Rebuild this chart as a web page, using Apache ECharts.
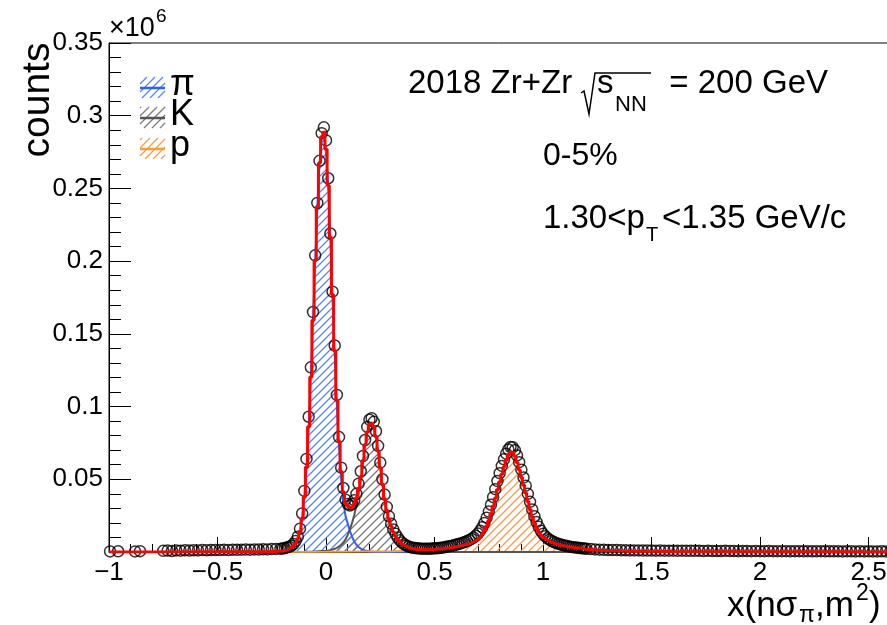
<!DOCTYPE html>
<html>
<head>
<meta charset="utf-8">
<title>PID fit, Zr+Zr 200 GeV</title>
<script src="https://cdn.jsdelivr.net/npm/echarts@6/dist/echarts.min.js"></script>
<style>
  html, body { margin: 0; padding: 0; background: #fff; }
  #chart { width: 887px; height: 625px; }
</style>
</head>
<body>
<div id="chart"></div>
<script>
// Measured counts per bin, x = combined nσπ / m² variable, y in units of 10^6
const counts = [
  [-0.995, 0.0004], [-0.958, 0.0005], [-0.880, 0.0004], [-0.857, 0.0006],
  [-0.75, 0.0008], [-0.73, 0.0010], [-0.71, 0.0007], [-0.69, 0.0011], [-0.67, 0.0009],
  [-0.65, 0.0012], [-0.63, 0.0010], [-0.61, 0.0012], [-0.59, 0.0011], [-0.57, 0.0013],
  [-0.55, 0.0012], [-0.53, 0.0013], [-0.51, 0.0014], [-0.49, 0.0013], [-0.47, 0.0015],
  [-0.45, 0.0014], [-0.43, 0.0016], [-0.41, 0.0015], [-0.39, 0.0016], [-0.37, 0.0017],
  [-0.35, 0.0016], [-0.33, 0.0018], [-0.31, 0.0017], [-0.29, 0.0019], [-0.27, 0.0018],
  [-0.25, 0.0020], [-0.23, 0.0021], [-0.21, 0.0022],
  [-0.20, 0.0024], [-0.19, 0.0027], [-0.18, 0.0031], [-0.17, 0.0036], [-0.16, 0.0043],
  [-0.15, 0.0055], [-0.14, 0.0075], [-0.13, 0.0105], [-0.12, 0.0160], [-0.11, 0.0265],
  [-0.10, 0.0420], [-0.09, 0.0640], [-0.08, 0.0930], [-0.07, 0.1270], [-0.06, 0.1650],
  [-0.05, 0.2040], [-0.04, 0.2400], [-0.03, 0.2690], [-0.02, 0.2880], [-0.01, 0.2920],
  [0.00, 0.2830], [0.01, 0.2570], [0.02, 0.2190], [0.03, 0.1790], [0.04, 0.1420],
  [0.05, 0.1080], [0.06, 0.0790], [0.07, 0.0580], [0.08, 0.0440], [0.09, 0.0360],
  [0.10, 0.0330], [0.11, 0.0320], [0.12, 0.0330], [0.13, 0.0355], [0.14, 0.0400],
  [0.15, 0.0470], [0.16, 0.0555], [0.17, 0.0660], [0.18, 0.0770], [0.19, 0.0860],
  [0.20, 0.0910], [0.21, 0.0920], [0.22, 0.0895], [0.23, 0.0830], [0.24, 0.0730],
  [0.25, 0.0615], [0.26, 0.0500], [0.27, 0.0395], [0.28, 0.0310], [0.29, 0.0245],
  [0.30, 0.0195], [0.31, 0.0155], [0.32, 0.0125], [0.33, 0.0100], [0.34, 0.0080],
  [0.35, 0.0065], [0.36, 0.0053], [0.37, 0.0044], [0.38, 0.0037], [0.39, 0.0032],
  [0.40, 0.0029], [0.41, 0.0027], [0.42, 0.0025], [0.43, 0.0024], [0.44, 0.0023],
  [0.45, 0.0023], [0.46, 0.0023], [0.47, 0.0023], [0.48, 0.0023], [0.49, 0.0024],
  [0.50, 0.0025], [0.51, 0.0026], [0.52, 0.0027], [0.53, 0.0029], [0.54, 0.0031],
  [0.55, 0.0034], [0.56, 0.0037], [0.57, 0.0040], [0.58, 0.0043], [0.59, 0.0047],
  [0.60, 0.0051], [0.61, 0.0055], [0.62, 0.0059], [0.63, 0.0064], [0.64, 0.0069],
  [0.65, 0.0075], [0.66, 0.0082], [0.67, 0.0090], [0.68, 0.0100], [0.69, 0.0112],
  [0.70, 0.0127], [0.71, 0.0146], [0.72, 0.0170], [0.73, 0.0200], [0.74, 0.0236],
  [0.75, 0.0278], [0.76, 0.0325], [0.77, 0.0377], [0.78, 0.0432], [0.79, 0.0488],
  [0.80, 0.0542], [0.81, 0.0592], [0.82, 0.0637], [0.83, 0.0676], [0.84, 0.0705],
  [0.85, 0.0722], [0.86, 0.0720], [0.87, 0.0700], [0.88, 0.0664], [0.89, 0.0618],
  [0.90, 0.0566], [0.91, 0.0512], [0.92, 0.0456], [0.93, 0.0400], [0.94, 0.0345],
  [0.95, 0.0293], [0.96, 0.0246], [0.97, 0.0206], [0.98, 0.0173], [0.99, 0.0146],
  [1.00, 0.0125], [1.01, 0.0108], [1.02, 0.0095], [1.03, 0.0084], [1.04, 0.0075],
  [1.05, 0.0068], [1.06, 0.0062], [1.07, 0.0057], [1.08, 0.0052], [1.09, 0.0048],
  [1.10, 0.0044], [1.11, 0.0041], [1.12, 0.0038], [1.13, 0.0035], [1.14, 0.0033],
  [1.15, 0.0031], [1.16, 0.0029], [1.17, 0.0027], [1.18, 0.0025], [1.19, 0.0024],
  [1.20, 0.0022], [1.22, 0.0020], [1.24, 0.0018], [1.26, 0.0016], [1.28, 0.0015],
  [1.30, 0.0014], [1.32, 0.0013], [1.34, 0.0013], [1.36, 0.0012], [1.38, 0.0012],
  [1.40, 0.0011], [1.42, 0.0011], [1.44, 0.0011], [1.46, 0.0010], [1.48, 0.0010],
  [1.50, 0.0010], [1.52, 0.0009], [1.54, 0.0010], [1.56, 0.0009], [1.58, 0.0009],
  [1.60, 0.0009], [1.62, 0.0008], [1.64, 0.0009], [1.66, 0.0008], [1.68, 0.0008],
  [1.70, 0.0008], [1.72, 0.0008], [1.74, 0.0007], [1.76, 0.0008], [1.78, 0.0007],
  [1.80, 0.0007], [1.82, 0.0007], [1.84, 0.0008], [1.86, 0.0007], [1.88, 0.0007],
  [1.90, 0.0006], [1.92, 0.0007], [1.94, 0.0007], [1.96, 0.0006], [1.98, 0.0007],
  [2.00, 0.0006], [2.02, 0.0006], [2.04, 0.0007], [2.06, 0.0006], [2.08, 0.0006],
  [2.10, 0.0006], [2.12, 0.0006], [2.14, 0.0005], [2.16, 0.0006], [2.18, 0.0006],
  [2.20, 0.0005], [2.22, 0.0006], [2.24, 0.0005], [2.26, 0.0005], [2.28, 0.0006],
  [2.30, 0.0005], [2.32, 0.0005], [2.34, 0.0005], [2.36, 0.0005], [2.38, 0.0004],
  [2.40, 0.0005], [2.42, 0.0005], [2.44, 0.0004], [2.46, 0.0005], [2.48, 0.0004],
  [2.50, 0.0005], [2.52, 0.0004], [2.54, 0.0004], [2.56, 0.0005], [2.58, 0.0004],
  [2.60, 0.0004], [2.62, 0.0004], [2.64, 0.0004], [2.66, 0.0004], [2.68, 0.0004],
  [2.70, 0.0004]
];

// Pion component of the fit
const pionFit = [
  [-1.00, 0], [-0.30, 0], [-0.25, 0.0002], [-0.22, 0.0004], [-0.20, 0.0006],
  [-0.19, 0.0009], [-0.18, 0.0013], [-0.17, 0.0019], [-0.16, 0.0028], [-0.15, 0.0040],
  [-0.14, 0.0060], [-0.13, 0.0090], [-0.12, 0.0140], [-0.11, 0.0230], [-0.10, 0.0375],
  [-0.09, 0.0582], [-0.08, 0.0858], [-0.07, 0.1200], [-0.06, 0.1590], [-0.05, 0.2000],
  [-0.04, 0.2370], [-0.03, 0.2670], [-0.02, 0.2850], [-0.01, 0.2880], [0.00, 0.2760],
  [0.01, 0.2510], [0.02, 0.2150], [0.03, 0.1750], [0.04, 0.1360], [0.05, 0.1010],
  [0.06, 0.0720], [0.07, 0.0500], [0.08, 0.0345], [0.09, 0.0245], [0.10, 0.0195],
  [0.11, 0.0145], [0.12, 0.0105], [0.13, 0.0072], [0.14, 0.0050], [0.15, 0.0034],
  [0.16, 0.0023], [0.17, 0.0015], [0.18, 0.0010], [0.19, 0.0007], [0.20, 0.0004],
  [0.22, 0.0002], [0.25, 0], [2.70, 0]
];

// Kaon component of the fit
const kaonFit = [
  [-1.00, 0], [-0.20, 0], [-0.10, 0.0002], [-0.05, 0.0004], [0.00, 0.0008],
  [0.01, 0.0010], [0.02, 0.0013], [0.03, 0.0017], [0.04, 0.0022], [0.05, 0.0029],
  [0.06, 0.0038], [0.07, 0.0050], [0.08, 0.0066], [0.09, 0.0087], [0.10, 0.0118],
  [0.11, 0.0155], [0.12, 0.0200], [0.13, 0.0255], [0.14, 0.0320], [0.15, 0.0400],
  [0.16, 0.0490], [0.17, 0.0610], [0.18, 0.0725], [0.19, 0.0815], [0.20, 0.0870],
  [0.21, 0.0883], [0.22, 0.0855], [0.23, 0.0790], [0.24, 0.0690], [0.25, 0.0575],
  [0.26, 0.0460], [0.27, 0.0360], [0.28, 0.0280], [0.29, 0.0220], [0.30, 0.0172],
  [0.31, 0.0133], [0.32, 0.0103], [0.33, 0.0080], [0.34, 0.0062], [0.35, 0.0048],
  [0.36, 0.0037], [0.37, 0.0029], [0.38, 0.0022], [0.39, 0.0017], [0.40, 0.0013],
  [0.42, 0.0008], [0.45, 0.0004], [0.50, 0.0001], [0.60, 0], [2.70, 0]
];

// Proton component of the fit
const protonFit = [
  [-1.00, 0], [0.00, 0.0002], [0.20, 0.0004], [0.30, 0.0005], [0.40, 0.0008],
  [0.45, 0.0012], [0.50, 0.0018], [0.55, 0.0026], [0.58, 0.0033], [0.60, 0.0038],
  [0.62, 0.0044], [0.64, 0.0051], [0.65, 0.0055], [0.66, 0.0060], [0.67, 0.0066],
  [0.68, 0.0073], [0.69, 0.0082], [0.70, 0.0093], [0.71, 0.0106], [0.72, 0.0124],
  [0.73, 0.0147], [0.74, 0.0178], [0.75, 0.0215], [0.76, 0.0262], [0.77, 0.0314],
  [0.78, 0.0370], [0.79, 0.0428], [0.80, 0.0482], [0.81, 0.0535], [0.82, 0.0585],
  [0.83, 0.0632], [0.84, 0.0668], [0.85, 0.0687], [0.86, 0.0683], [0.87, 0.0658],
  [0.88, 0.0615], [0.89, 0.0565], [0.90, 0.0514], [0.91, 0.0461], [0.92, 0.0405],
  [0.93, 0.0348], [0.94, 0.0292], [0.95, 0.0240], [0.96, 0.0199], [0.97, 0.0164],
  [0.98, 0.0136], [0.99, 0.0115], [1.00, 0.0100], [1.01, 0.0088], [1.02, 0.0079],
  [1.03, 0.0070], [1.04, 0.0065], [1.05, 0.0059], [1.06, 0.0054], [1.08, 0.0046],
  [1.10, 0.0040], [1.12, 0.0034], [1.15, 0.0027], [1.20, 0.0018], [1.25, 0.0012],
  [1.30, 0.0008], [1.40, 0.0005], [1.60, 0.0002], [2.00, 0.0001], [2.70, 0]
];

// Total fit (sum of the three species), drawn as a histogram
const totalFit = [
  [-1.00, 0], [-0.50, 0.0001], [-0.30, 0.0002], [-0.25, 0.0003], [-0.22, 0.0005],
  [-0.20, 0.0007], [-0.19, 0.0010], [-0.18, 0.0014], [-0.17, 0.0020], [-0.16, 0.0029],
  [-0.15, 0.0041], [-0.14, 0.0061], [-0.13, 0.0091], [-0.12, 0.0141], [-0.11, 0.0231],
  [-0.10, 0.0377], [-0.09, 0.0585], [-0.08, 0.0861], [-0.07, 0.1203], [-0.06, 0.1593],
  [-0.05, 0.2004], [-0.04, 0.2374], [-0.03, 0.2675], [-0.02, 0.2856], [-0.01, 0.2887],
  [0.00, 0.2770], [0.01, 0.2522], [0.02, 0.2165], [0.03, 0.1769], [0.04, 0.1384],
  [0.05, 0.1041], [0.06, 0.0760], [0.07, 0.0552], [0.08, 0.0413], [0.09, 0.0334],
  [0.10, 0.0315], [0.11, 0.0302], [0.12, 0.0308], [0.13, 0.0330], [0.14, 0.0373],
  [0.15, 0.0437], [0.16, 0.0516], [0.17, 0.0628], [0.18, 0.0738], [0.19, 0.0825],
  [0.20, 0.0878], [0.21, 0.0890], [0.22, 0.0861], [0.23, 0.0794], [0.24, 0.0695],
  [0.25, 0.0580], [0.26, 0.0465], [0.27, 0.0365], [0.28, 0.0285], [0.29, 0.0225],
  [0.30, 0.0177], [0.31, 0.0138], [0.32, 0.0108], [0.33, 0.0086], [0.34, 0.0068],
  [0.35, 0.0054], [0.36, 0.0043], [0.37, 0.0035], [0.38, 0.0028], [0.39, 0.0024],
  [0.40, 0.0021], [0.41, 0.0019], [0.42, 0.0018], [0.43, 0.0017], [0.44, 0.0016],
  [0.45, 0.0016], [0.46, 0.0016], [0.47, 0.0016], [0.48, 0.0017], [0.49, 0.0018],
  [0.50, 0.0019], [0.51, 0.0020], [0.52, 0.0021], [0.53, 0.0022], [0.54, 0.0024],
  [0.55, 0.0026], [0.56, 0.0028], [0.57, 0.0030], [0.58, 0.0033], [0.59, 0.0035],
  [0.60, 0.0038], [0.61, 0.0041], [0.62, 0.0044], [0.63, 0.0047], [0.64, 0.0051],
  [0.65, 0.0055], [0.66, 0.0060], [0.67, 0.0066], [0.68, 0.0073], [0.69, 0.0082],
  [0.70, 0.0093], [0.71, 0.0106], [0.72, 0.0124], [0.73, 0.0147], [0.74, 0.0178],
  [0.75, 0.0215], [0.76, 0.0262], [0.77, 0.0314], [0.78, 0.0370], [0.79, 0.0428],
  [0.80, 0.0482], [0.81, 0.0535], [0.82, 0.0585], [0.83, 0.0632], [0.84, 0.0668],
  [0.85, 0.0687], [0.86, 0.0683], [0.87, 0.0658], [0.88, 0.0615], [0.89, 0.0565],
  [0.90, 0.0514], [0.91, 0.0461], [0.92, 0.0405], [0.93, 0.0348], [0.94, 0.0292],
  [0.95, 0.0240], [0.96, 0.0199], [0.97, 0.0164], [0.98, 0.0136], [0.99, 0.0115],
  [1.00, 0.0100], [1.01, 0.0088], [1.02, 0.0079], [1.03, 0.0070], [1.04, 0.0065],
  [1.05, 0.0059], [1.06, 0.0054], [1.07, 0.0050], [1.08, 0.0046], [1.09, 0.0043],
  [1.10, 0.0040], [1.12, 0.0034], [1.15, 0.0027], [1.20, 0.0018], [1.25, 0.0012],
  [1.30, 0.0008], [1.40, 0.0005], [1.60, 0.0002], [2.00, 0.0001], [2.70, 0]
];

const xTicks = { min: -1, max: 2.7, step: 0.5 };
const yTicks = { min: 0, max: 0.35, step: 0.05 };
const legendNames = ['\u03c0', 'K', 'p'];

const FONT = '"Liberation Sans", Arial, Helvetica, sans-serif';
const BLUE = '#2f62f0', GREY = '#555555', ORANGE = '#ff9933';
const HATCH_BLUE = '#5286ff', HATCH_GREY = '#7c7c7c', HATCH_ORANGE = '#ff9a45';
const HATCH_STEP = 8;
const HATCH_WIDTH = 1.3;

// "/" hatching of the region between a curve (pixel polyline) and the baseline.
// Lines follow x + y = c in screen space, c on a fixed 8 px lattice.
function hatchSegments(px, base, step) {
  const n = px.length;
  const topAt = x => {
    let lo = 0, hi = n - 1;
    if (x <= px[0][0]) return px[0][1];
    if (x >= px[hi][0]) return px[hi][1];
    while (hi - lo > 1) {
      const mid = (lo + hi) >> 1;
      if (px[mid][0] <= x) lo = mid; else hi = mid;
    }
    const t = (x - px[lo][0]) / (px[hi][0] - px[lo][0] || 1);
    return px[lo][1] + t * (px[hi][1] - px[lo][1]);
  };
  let ymin = Infinity;
  for (const p of px) ymin = Math.min(ymin, p[1]);
  const x0 = px[0][0], x1 = px[n - 1][0];
  const segs = [];
  const cStart = Math.ceil((x0 + ymin) / step) * step;
  for (let c = cStart; c <= x1 + base; c += step) {
    const xa = Math.max(x0, c - base), xb = Math.min(x1, c - ymin);
    let start = null, last = null;
    for (let x = xa; x <= xb + 0.01; x += 0.5) {
      const y = c - x;
      const inside = y >= topAt(x) && y <= base - 0.5;
      if (inside) { if (!start) start = [x, y]; last = [x, y]; }
      else if (start) { segs.push([start, last]); start = null; }
    }
    if (start) segs.push([start, last]);
  }
  return segs.filter(s => Math.abs(s[1][0] - s[0][0]) >= 1);
}

function hatchSeries(name, points, color) {
  return {
    name: name + '-fill', type: 'custom', coordinateSystem: 'cartesian2d',
    data: points, encode: { x: 0, y: 1 }, z: 1, silent: true, clip: true,
    renderItem: (params, api) => {
      if (params.dataIndex !== 0) return null;
      const px = points.map(p => api.coord(p));
      const base = api.coord([points[0][0], 0])[1];
      const children = hatchSegments(px, base, HATCH_STEP).map(s => ({
        type: 'line',
        shape: { x1: s[0][0], y1: s[0][1], x2: s[1][0], y2: s[1][1] },
        style: { stroke: color, lineWidth: HATCH_WIDTH }
      }));
      return { type: 'group', children };
    }
  };
}

function curveSeries(name, data, color) {
  return {
    name, type: 'line', data, z: 2,
    symbol: 'none', showSymbol: false, smooth: false,
    lineStyle: { color, width: 2 }, itemStyle: { color },
    silent: true
  };
}

// Text helper: x = left edge (or right edge when align = 'right'), y = vertical middle
function txt(x, y, text, size, align) {
  return {
    type: 'text', x, y, z: 10,
    style: {
      text, fill: '#000', font: size + 'px ' + FONT,
      textAlign: align || 'left', textVerticalAlign: 'middle', verticalAlign: 'middle'
    }
  };
}

// Hatched legend swatch: rectangle-clipped "/" lines plus the curve colour across the middle
function legendRow(cy, name, lineColor, hatchColor) {
  const x = 140, w = 25, y = cy - 11, h = 21, out = [];
  const step = HATCH_STEP;
  for (let c = Math.ceil((x + y) / step) * step; c <= x + w + y + h; c += step) {
    const xa = Math.max(x, c - y - h), xb = Math.min(x + w, c - y);
    if (xb - xa < 1) continue;
    out.push({ type: 'line', z: 10, silent: true,
      shape: { x1: xa, y1: c - xa, x2: xb, y2: c - xb },
      style: { stroke: hatchColor, lineWidth: HATCH_WIDTH } });
  }
  out.push({ type: 'line', z: 11, shape: { x1: x, y1: cy, x2: x + w, y2: cy },
             style: { stroke: lineColor, lineWidth: 2.5 } });
  out.push(txt(170, cy - 3, name, 36));
  return out;
}

const chart = echarts.init(document.getElementById('chart'), null, { renderer: 'canvas' });

const fmtX = v => {
  if (Math.abs(v * 2 - Math.round(v * 2)) > 1e-6) return '';
  return String(+v.toFixed(2)).replace('-', '\u2212');
};
const fmtY = v => (Math.abs(v) < 1e-9 ? '' : String(+v.toFixed(2)));

chart.setOption({
  animation: false,
  backgroundColor: '#fff',
  // plot frame runs past the right edge of the canvas
  grid: {
    left: 109, top: 43, bottom: 73, width: 803,
    containLabel: false, outerBoundsMode: 'none',
    show: true, borderColor: '#000', borderWidth: 1, backgroundColor: 'transparent'
  },
  xAxis: {
    type: 'value', min: xTicks.min, max: xTicks.max, interval: xTicks.step,
    axisLine: { show: true, onZero: false, lineStyle: { color: '#000', width: 1 } },
    axisTick: { show: true, inside: true, length: 15, lineStyle: { color: '#000', width: 1 } },
    minorTick: { show: true, splitNumber: 5, length: 8, lineStyle: { color: '#000', width: 1 } },
    splitLine: { show: false },
    axisLabel: { color: '#000', fontFamily: FONT, fontSize: 26, margin: 8, formatter: fmtX }
  },
  yAxis: {
    type: 'value', min: yTicks.min, max: yTicks.max, interval: yTicks.step,
    axisLine: { show: true, onZero: false, lineStyle: { color: '#000', width: 1 } },
    axisTick: { show: true, inside: true, length: 22, lineStyle: { color: '#000', width: 1 } },
    minorTick: { show: true, splitNumber: 5, length: 12, lineStyle: { color: '#000', width: 1 } },
    splitLine: { show: false },
    axisLabel: { color: '#000', fontFamily: FONT, fontSize: 26, margin: 6, formatter: fmtY }
  },
  series: [
    hatchSeries('pion', pionFit, HATCH_BLUE),
    hatchSeries('kaon', kaonFit, HATCH_GREY),
    hatchSeries('proton', protonFit, HATCH_ORANGE),
    curveSeries('pion', pionFit, BLUE),
    curveSeries('kaon', kaonFit, GREY),
    curveSeries('proton', protonFit, ORANGE),
    {
      name: 'counts', type: 'scatter', data: counts, z: 3,
      symbol: 'circle', symbolSize: 11,
      itemStyle: { color: 'rgba(0,0,0,0)', borderColor: '#000', borderWidth: 1.5 },
      silent: true
    },
    {
      name: 'fit', type: 'line', data: totalFit, z: 4, step: 'middle',
      symbol: 'none', showSymbol: false,
      lineStyle: { color: '#ff0000', width: 3 },
      silent: true
    }
  ],
  graphic: [
    // axis titles
    {
      type: 'text', x: 38, y: 100, rotation: Math.PI / 2, z: 10,
      style: { text: 'counts', fill: '#000', font: '39px ' + FONT,
               textAlign: 'center', textVerticalAlign: 'middle', verticalAlign: 'middle' }
    },
    txt(109, 29, '\u00d710', 27),
    txt(156, 17, '6', 19),
    txt(727, 606, 'x(n\u03c3', 35),
    txt(799, 616, '\u03c0', 23),
    txt(815, 606, ',m', 35),
    txt(856, 594, '2', 23),
    txt(869, 606, ')', 35),
    // legend
    ...legendRow(88, legendNames[0], BLUE, HATCH_BLUE),
    ...legendRow(118, legendNames[1], GREY, HATCH_GREY),
    ...legendRow(149, legendNames[2], ORANGE, HATCH_ORANGE),
    // collision system and energy
    txt(408, 84, '2018 Zr+Zr', 33),
    {
      type: 'polyline', z: 10,
      shape: { points: [[581, 93], [584, 91], [589, 114], [595, 73], [651, 73]] },
      style: { stroke: '#000', lineWidth: 1.5, fill: null }
    },
    txt(597, 84, 's', 33),
    txt(615, 105, 'NN', 22),
    txt(828, 84, '= 200 GeV', 33, 'right'),
    // centrality and pT bin
    txt(543, 156, '0-5%', 32),
    txt(543, 219, '1.30<p', 33),
    txt(646, 235, 'T', 20),
    txt(662, 219, '<1.35 GeV/c', 33)
  ]
});
</script>
</body>
</html>
